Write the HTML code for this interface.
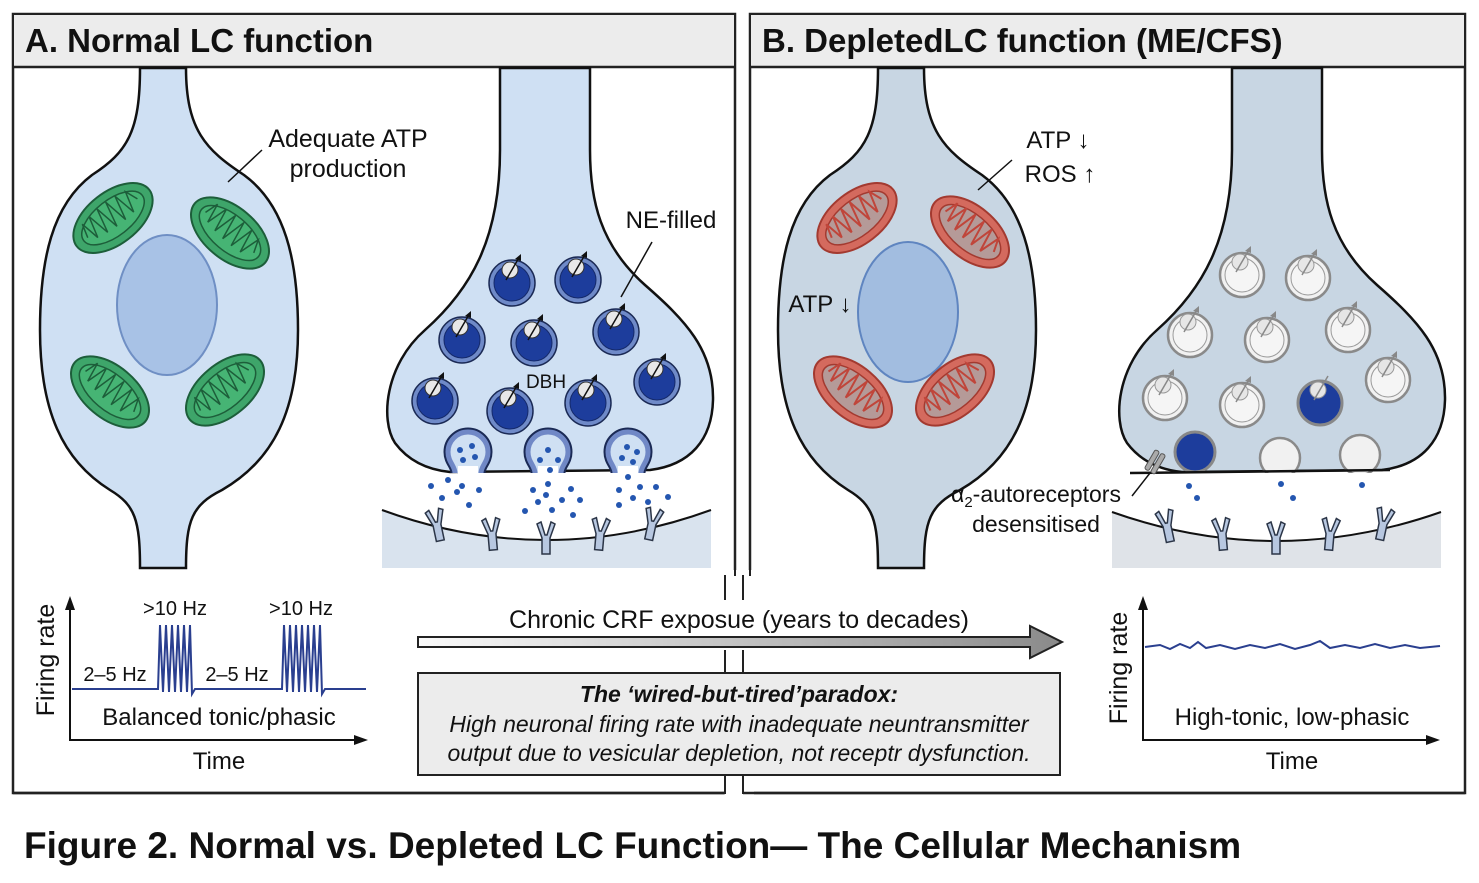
<!DOCTYPE html>
<html><head><meta charset="utf-8"><style>
html,body{margin:0;padding:0;background:#fff}
svg{display:block}
text{font-family:"Liberation Sans",Arial,sans-serif}
</style></head><body>
<svg width="1479" height="883" viewBox="0 0 1479 883" xmlns="http://www.w3.org/2000/svg">
<defs>
 <g id="mitoG">
  <ellipse cx="0" cy="0" rx="46" ry="26" fill="#3ea56a" stroke="#1d5e3a" stroke-width="2"/>
  <ellipse cx="0" cy="0" rx="37" ry="18" fill="#46b474" stroke="#1d5e3a" stroke-width="1.5"/>
  <path d="M-32,0 L-28,-14 L-24,6 L-18,-16 L-13,8 L-7,-17 L-2,9 L4,-17 L9,9 L15,-16 L20,8 L26,-13 L31,0" fill="none" stroke="#1d5e3a" stroke-width="1.5"/>
 </g>
 <g id="mitoR">
  <ellipse cx="0" cy="0" rx="46" ry="26" fill="#d46a5e" stroke="#a33a30" stroke-width="2"/>
  <ellipse cx="0" cy="0" rx="37" ry="18" fill="#b59a98" stroke="#a33a30" stroke-width="1.5"/>
  <path d="M-32,0 L-28,-14 L-24,6 L-18,-16 L-13,8 L-7,-17 L-2,9 L4,-17 L9,9 L15,-16 L20,8 L26,-13 L31,0" fill="none" stroke="#c0453a" stroke-width="2"/>
 </g>
 <g id="vesA">
  <circle r="23" fill="#6f8ac8" stroke="#1b2a55" stroke-width="1.5"/>
  <circle r="18" fill="#1d3d9c" stroke="#14296a" stroke-width="1"/>
  <circle cx="-2" cy="-13" r="8" fill="#e8e8e8" stroke="#333" stroke-width="1"/>
  <line x1="-6" y1="-3" x2="8" y2="-27" stroke="#111" stroke-width="1.5"/>
  <path d="M9,-29 L3,-24 L9,-22 Z" fill="#111"/>
 </g>
 <g id="vesB">
  <circle r="22" fill="#f1f1f1" stroke="#8a8a8a" stroke-width="2.5"/>
  <circle r="17" fill="#f5f5f5" stroke="#9a9a9a" stroke-width="1"/>
  <circle cx="-2" cy="-13" r="8" fill="#e6e6e6" stroke="#999" stroke-width="1"/>
  <line x1="-6" y1="-3" x2="8" y2="-27" stroke="#888" stroke-width="1.5"/>
  <path d="M9,-29 L3,-24 L9,-22 Z" fill="#888"/>
 </g>
 <g id="rec">
  <path d="M-9,-14 L-4,0 L-4,16 L4,16 L4,0 L9,-14 L5,-16 L1,-3 L-1,-3 L-5,-16 Z" fill="#b7c7e0" stroke="#2b3547" stroke-width="1.5"/>
 </g>
 <g id="omega">
  <path d="M-13,473 C-13,466 -20,462 -20,452 A20,20 0 1 1 20,452 C20,462 13,466 13,473" fill="#cfe0f3" stroke="#1b2a55" stroke-width="9"/>
  <path d="M-13,473 C-13,466 -20,462 -20,452 A20,20 0 1 1 20,452 C20,462 13,466 13,473" fill="#cfe0f3" stroke="#7088c6" stroke-width="5"/>
  <rect x="-10" y="466" width="20" height="10" fill="#fff"/>
 </g>
 <linearGradient id="ag" x1="0" x2="1"><stop offset="0" stop-color="#fafafa"/><stop offset="1" stop-color="#8a8a8a"/></linearGradient>
</defs>

<!-- Panel A -->
<rect x="13" y="14" width="722" height="779" fill="#fff" stroke="#222" stroke-width="2.5"/>
<rect x="14" y="15" width="720" height="52" fill="#ececec"/>
<line x1="13" y1="67" x2="735" y2="67" stroke="#222" stroke-width="2.5"/>
<text x="25" y="52" font-size="33" font-weight="bold" fill="#111">A. Normal LC function</text>

<!-- Panel B -->
<rect x="750" y="14" width="715" height="779" fill="#fff" stroke="#222" stroke-width="2.5"/>
<rect x="751" y="15" width="713" height="52" fill="#ececec"/>
<line x1="750" y1="67" x2="1465" y2="67" stroke="#222" stroke-width="2.5"/>
<text x="762" y="52" font-size="33" font-weight="bold" fill="#111">B. DepletedLC function (ME/CFS)</text>

<!-- Soma A -->
<path d="M140,68 C140,130 128,152 92,175 C52,205 40,260 40,330 C40,410 62,460 110,490 C135,505 140,520 140,568 L186,568 C186,520 192,505 222,490 C274,460 298,410 298,330 C298,260 285,205 244,175 C206,150 186,130 186,68 Z" fill="#cfe0f3" stroke="#111" stroke-width="2.5"/>
<ellipse cx="167" cy="305" rx="50" ry="70" fill="#a8c2e6" stroke="#6f8fc4" stroke-width="2"/>
<use href="#mitoG" transform="translate(113,218) rotate(-38)"/>
<use href="#mitoG" transform="translate(230,233) rotate(40)"/>
<use href="#mitoG" transform="translate(110,392) rotate(40)"/>
<use href="#mitoG" transform="translate(225,390) rotate(-40)"/>
<line x1="228" y1="182" x2="262" y2="150" stroke="#111" stroke-width="1.5"/>
<text x="348" y="147" font-size="25" text-anchor="middle" fill="#111">Adequate ATP</text>
<text x="348" y="177" font-size="25" text-anchor="middle" fill="#111">production</text>

<!-- Terminal A -->
<path d="M382,510 Q546,570 711,510 L711,568 L382,568 Z" fill="#d9e3ee"/>
<path d="M382,510 Q546,570 711,510" fill="none" stroke="#111" stroke-width="2"/>
<path d="M500,68 L500,150 C500,240 470,290 425,330 C385,365 380,420 395,443 C410,463 430,470 450,472 L650,470 C690,465 712,440 713,400 C714,350 685,320 645,285 C600,245 590,200 590,150 L590,68 Z" fill="#cfe0f3" stroke="#111" stroke-width="2.5"/>
<use href="#omega" transform="translate(468,0)"/>
<use href="#omega" transform="translate(548,0)"/>
<use href="#omega" transform="translate(628,0)"/>
<g fill="#2456b0">
 <circle cx="460" cy="450" r="3"/><circle cx="472" cy="446" r="3"/><circle cx="463" cy="460" r="3"/><circle cx="475" cy="457" r="3"/>
 <circle cx="431" cy="486" r="3"/><circle cx="448" cy="480" r="3"/><circle cx="462" cy="486" r="3"/><circle cx="457" cy="492" r="3"/><circle cx="479" cy="490" r="3"/><circle cx="442" cy="498" r="3"/><circle cx="469" cy="505" r="3"/>
 <circle cx="548" cy="450" r="3"/><circle cx="540" cy="460" r="3"/><circle cx="558" cy="460" r="3"/><circle cx="550" cy="470" r="3"/>
 <circle cx="533" cy="490" r="3"/><circle cx="548" cy="484" r="3"/><circle cx="546" cy="495" r="3"/><circle cx="571" cy="489" r="3"/><circle cx="538" cy="502" r="3"/><circle cx="562" cy="500" r="3"/><circle cx="580" cy="500" r="3"/><circle cx="525" cy="511" r="3"/><circle cx="552" cy="510" r="3"/><circle cx="573" cy="515" r="3"/>
 <circle cx="627" cy="447" r="3"/><circle cx="637" cy="452" r="3"/><circle cx="622" cy="458" r="3"/><circle cx="633" cy="462" r="3"/>
 <circle cx="628" cy="477" r="3"/><circle cx="640" cy="487" r="3"/><circle cx="656" cy="487" r="3"/><circle cx="619" cy="490" r="3"/><circle cx="633" cy="498" r="3"/><circle cx="648" cy="502" r="3"/><circle cx="668" cy="497" r="3"/><circle cx="619" cy="505" r="3"/>
</g>
<use href="#rec" transform="translate(437,525) rotate(-12)"/>
<use href="#rec" transform="translate(492,534) rotate(-5)"/>
<use href="#rec" transform="translate(546,538)"/>
<use href="#rec" transform="translate(600,534) rotate(5)"/>
<use href="#rec" transform="translate(652,524) rotate(12)"/>
<use href="#vesA" transform="translate(512,283)"/>
<use href="#vesA" transform="translate(578,280)"/>
<use href="#vesA" transform="translate(462,340)"/>
<use href="#vesA" transform="translate(534,343)"/>
<use href="#vesA" transform="translate(616,332)"/>
<use href="#vesA" transform="translate(435,401)"/>
<use href="#vesA" transform="translate(510,411)"/>
<use href="#vesA" transform="translate(588,403)"/>
<use href="#vesA" transform="translate(657,382)"/>
<line x1="621" y1="297" x2="652" y2="242" stroke="#111" stroke-width="1.5"/>
<text x="671" y="228" font-size="24" text-anchor="middle" fill="#111">NE-filled</text>
<text x="546" y="388" font-size="19" text-anchor="middle" fill="#111">DBH</text>

<!-- Soma B -->
<path d="M878,68 C878,130 866,152 830,175 C790,205 778,260 778,330 C778,410 800,460 848,490 C873,505 878,520 878,568 L924,568 C924,520 930,505 960,490 C1012,460 1036,410 1036,330 C1036,260 1023,205 982,175 C944,150 924,130 924,68 Z" fill="#c8d6e3" stroke="#111" stroke-width="2.5"/>
<ellipse cx="908" cy="312" rx="50" ry="70" fill="#a2bde0" stroke="#5f85c0" stroke-width="2"/>
<use href="#mitoR" transform="translate(857,218) rotate(-38)"/>
<use href="#mitoR" transform="translate(970,232) rotate(40)"/>
<use href="#mitoR" transform="translate(853,392) rotate(40)"/>
<use href="#mitoR" transform="translate(955,390) rotate(-40)"/>
<line x1="978" y1="190" x2="1012" y2="160" stroke="#111" stroke-width="1.5"/>
<text x="1058" y="148" font-size="24" text-anchor="middle" fill="#111">ATP ↓</text>
<text x="1060" y="182" font-size="24" text-anchor="middle" fill="#111">ROS ↑</text>
<text x="820" y="312" font-size="24" text-anchor="middle" fill="#111">ATP ↓</text>

<!-- Terminal B -->
<path d="M1112,512 Q1276,570 1441,512 L1441,568 L1112,568 Z" fill="#dfe3e8"/>
<path d="M1112,512 Q1276,570 1441,512" fill="none" stroke="#111" stroke-width="2"/>
<path d="M1232,68 L1232,150 C1232,240 1202,290 1157,330 C1117,365 1112,420 1127,443 C1142,463 1162,470 1182,472 L1382,470 C1422,465 1444,440 1445,400 C1446,350 1417,320 1377,285 C1332,245 1322,200 1322,150 L1322,68 Z" fill="#c8d6e3" stroke="#111" stroke-width="2.5"/>
<circle cx="1195" cy="452" r="20" fill="#1d3d9c" stroke="#888" stroke-width="3"/>
<circle cx="1280" cy="458" r="20" fill="#f1f1f1" stroke="#8a8a8a" stroke-width="2.5"/>
<circle cx="1360" cy="455" r="20" fill="#f1f1f1" stroke="#8a8a8a" stroke-width="2.5"/>
<rect x="1170" y="473" width="220" height="8" fill="#fff"/>
<path d="M1130,473 L1390,470" stroke="#111" stroke-width="2.5" fill="none"/>
<g transform="translate(1155,462) rotate(30)"><rect x="-6" y="-11" width="5" height="22" rx="2" fill="#aaa" stroke="#555"/><rect x="1" y="-11" width="5" height="22" rx="2" fill="#aaa" stroke="#555"/></g>
<line x1="1132" y1="496" x2="1150" y2="473" stroke="#111" stroke-width="1.5"/>
<g fill="#2456b0"><circle cx="1189" cy="486" r="3"/><circle cx="1197" cy="498" r="3"/><circle cx="1281" cy="484" r="3"/><circle cx="1293" cy="498" r="3"/><circle cx="1362" cy="485" r="3"/></g>
<use href="#rec" transform="translate(1167,526) rotate(-12)"/>
<use href="#rec" transform="translate(1222,534) rotate(-5)"/>
<use href="#rec" transform="translate(1276,538)"/>
<use href="#rec" transform="translate(1330,534) rotate(5)"/>
<use href="#rec" transform="translate(1383,524) rotate(12)"/>
<use href="#vesB" transform="translate(1242,275)"/>
<use href="#vesB" transform="translate(1308,278)"/>
<use href="#vesB" transform="translate(1190,335)"/>
<use href="#vesB" transform="translate(1267,340)"/>
<use href="#vesB" transform="translate(1348,330)"/>
<use href="#vesB" transform="translate(1165,398)"/>
<use href="#vesB" transform="translate(1242,405)"/>
<use href="#vesB" transform="translate(1388,380)"/>
<circle cx="1320" cy="403" r="22" fill="#1d3d9c" stroke="#888" stroke-width="3"/>
<circle cx="1318" cy="390" r="8" fill="#e6e6e6" stroke="#999"/>
<line x1="1314" y1="400" x2="1328" y2="376" stroke="#888" stroke-width="1.5"/>
<text x="1036" y="502" font-size="23" text-anchor="middle" fill="#111">α<tspan font-size="15" dy="5">2</tspan><tspan dy="-5">-autoreceptors</tspan></text>
<text x="1036" y="532" font-size="23" text-anchor="middle" fill="#111">desensitised</text>

<!-- middle gap between panels -->
<rect x="724" y="570" width="30" height="226" fill="#fff"/>
<line x1="735" y1="570" x2="735" y2="576" stroke="#222" stroke-width="2"/>
<line x1="750" y1="570" x2="750" y2="576" stroke="#222" stroke-width="2"/>
<line x1="725" y1="575" x2="725" y2="600" stroke="#222" stroke-width="2"/>
<line x1="743" y1="575" x2="743" y2="600" stroke="#222" stroke-width="2"/>
<line x1="725" y1="650" x2="725" y2="673" stroke="#222" stroke-width="2"/>
<line x1="743" y1="650" x2="743" y2="673" stroke="#222" stroke-width="2"/>
<line x1="725" y1="775" x2="725" y2="794" stroke="#222" stroke-width="2"/>
<line x1="743" y1="775" x2="743" y2="794" stroke="#222" stroke-width="2"/>
<line x1="13" y1="793" x2="725" y2="793" stroke="#222" stroke-width="2.5"/>
<line x1="743" y1="793" x2="1465" y2="793" stroke="#222" stroke-width="2.5"/>

<!-- Plot A -->
<path d="M70,600 L70,740 L360,740" stroke="#111" stroke-width="2" fill="none"/>
<path d="M70,596 L65,610 L75,610 Z" fill="#111"/>
<path d="M368,740 L354,735 L354,745 Z" fill="#111"/>
<path d="M72,689 L158,689 L160,625 L163,692 L166,625 L169,692 L172,625 L175,692 L178,625 L181,692 L184,625 L187,692 L190,625 L192,694 L195,689 L282,689 L284,625 L287,692 L290,625 L293,692 L296,625 L299,692 L302,625 L305,692 L308,625 L311,692 L314,625 L317,692 L320,625 L322,694 L325,689 L366,689" fill="none" stroke="#2a3f8f" stroke-width="2"/>
<text x="54" y="660" font-size="25" text-anchor="middle" fill="#111" transform="rotate(-90 54 660)">Firing rate</text>
<text x="175" y="615" font-size="20" text-anchor="middle" fill="#111">&gt;10 Hz</text>
<text x="301" y="615" font-size="20" text-anchor="middle" fill="#111">&gt;10 Hz</text>
<text x="115" y="681" font-size="20" text-anchor="middle" fill="#111">2–5 Hz</text>
<text x="237" y="681" font-size="20" text-anchor="middle" fill="#111">2–5 Hz</text>
<text x="219" y="725" font-size="24" text-anchor="middle" fill="#111">Balanced tonic/phasic</text>
<text x="219" y="769" font-size="24" text-anchor="middle" fill="#111">Time</text>

<!-- Plot B -->
<path d="M1143,600 L1143,740 L1432,740" stroke="#111" stroke-width="2" fill="none"/>
<path d="M1143,596 L1138,610 L1148,610 Z" fill="#111"/>
<path d="M1440,740 L1426,735 L1426,745 Z" fill="#111"/>
<path d="M1145,647 L1160,645 L1170,649 L1180,644 L1190,648 L1198,642 L1206,648 L1220,645 L1235,649 L1250,645 L1265,648 L1280,644 L1295,649 L1310,645 L1320,641 L1330,648 L1345,645 L1360,648 L1375,644 L1390,648 L1405,645 L1420,648 L1440,646" fill="none" stroke="#2a3f8f" stroke-width="2"/>
<text x="1127" y="668" font-size="25" text-anchor="middle" fill="#111" transform="rotate(-90 1127 668)">Firing rate</text>
<text x="1292" y="725" font-size="24" text-anchor="middle" fill="#111">High-tonic, low-phasic</text>
<text x="1292" y="769" font-size="24" text-anchor="middle" fill="#111">Time</text>

<!-- middle arrow + box -->
<path d="M418,637 L1030,637 L1030,626 L1062,642 L1030,658 L1030,647 L418,647 Z" fill="url(#ag)" stroke="#222" stroke-width="2"/>
<text x="739" y="628" font-size="25" text-anchor="middle" fill="#111">Chronic CRF exposue (years to decades)</text>
<rect x="418" y="673" width="642" height="102" fill="#ececec" stroke="#222" stroke-width="2"/>
<text x="739" y="702" font-size="23" font-weight="bold" font-style="italic" text-anchor="middle" fill="#111">The ‘wired-but-tired’paradox:</text>
<text x="739" y="732" font-size="23" font-style="italic" text-anchor="middle" fill="#111">High neuronal firing rate with inadequate neuntransmitter</text>
<text x="739" y="761" font-size="23" font-style="italic" text-anchor="middle" fill="#111">output due to vesicular depletion, not receptr dysfunction.</text>

<text x="24" y="858" font-size="37" font-weight="bold" fill="#111">Figure 2. Normal vs. Depleted LC Function— The Cellular Mechanism</text>
</svg>
</body></html>
